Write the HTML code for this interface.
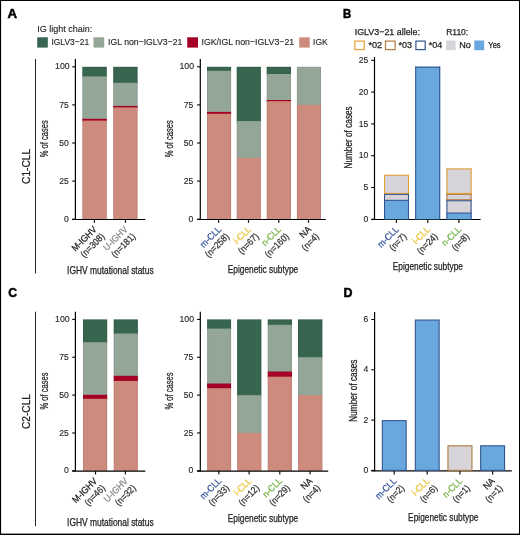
<!DOCTYPE html>
<html><head><meta charset="utf-8"><style>
html,body{margin:0;padding:0;background:#fff;}
body{width:520px;height:535px;overflow:hidden;position:relative;}
svg{position:absolute;left:0;top:0;display:block;will-change:transform;}
text{font-family:"Liberation Sans",sans-serif;}
</style></head><body>
<svg width="520" height="535" viewBox="0 0 520 535">
<rect x="0" y="0" width="520" height="535" fill="#fff"/>
<text x="7.60" y="17.60" font-size="12.6" text-anchor="start" fill="#000" stroke="#000" stroke-width="0.5" font-weight="bold" textLength="9.60" lengthAdjust="spacingAndGlyphs" >A</text>
<text x="343.00" y="17.70" font-size="12.6" text-anchor="start" fill="#000" stroke="#000" stroke-width="0.5" font-weight="bold" textLength="8.20" lengthAdjust="spacingAndGlyphs" >B</text>
<text x="8.30" y="297.30" font-size="12.6" text-anchor="start" fill="#000" stroke="#000" stroke-width="0.5" font-weight="bold" textLength="8.80" lengthAdjust="spacingAndGlyphs" >C</text>
<text x="343.50" y="297.10" font-size="12.6" text-anchor="start" fill="#000" stroke="#000" stroke-width="0.5" font-weight="bold" textLength="9.00" lengthAdjust="spacingAndGlyphs" >D</text>
<text x="37.20" y="31.50" font-size="9.2" text-anchor="start" fill="#222" stroke="#222" stroke-width="0.12" font-weight="normal" textLength="55.10" lengthAdjust="spacingAndGlyphs" >IG light chain:</text>
<rect x="37.20" y="37.30" width="10.60" height="10.30" fill="#376550" />
<text x="51.40" y="44.70" font-size="9.2" text-anchor="start" fill="#222" stroke="#222" stroke-width="0.12" font-weight="normal" textLength="37.70" lengthAdjust="spacingAndGlyphs" >IGLV3−21</text>
<rect x="93.50" y="37.30" width="10.70" height="10.30" fill="#94a697" />
<text x="108.10" y="44.70" font-size="9.2" text-anchor="start" fill="#222" stroke="#222" stroke-width="0.12" font-weight="normal" textLength="74.20" lengthAdjust="spacingAndGlyphs" >IGL non−IGLV3−21</text>
<rect x="187.20" y="37.30" width="10.80" height="10.30" fill="#a50026" />
<text x="201.50" y="44.70" font-size="9.2" text-anchor="start" fill="#222" stroke="#222" stroke-width="0.12" font-weight="normal" textLength="92.70" lengthAdjust="spacingAndGlyphs" >IGK/IGL non−IGLV3−21</text>
<rect x="299.20" y="37.30" width="10.50" height="10.30" fill="#cd8b7e" />
<text x="313.10" y="44.70" font-size="9.2" text-anchor="start" fill="#222" stroke="#222" stroke-width="0.12" font-weight="normal" textLength="14.60" lengthAdjust="spacingAndGlyphs" >IGK</text>
<text x="354.70" y="35.00" font-size="9.2" text-anchor="start" fill="#222" stroke="#222" stroke-width="0.25" font-weight="normal" textLength="65.30" lengthAdjust="spacingAndGlyphs" >IGLV3−21 allele:</text>
<text x="446.20" y="35.00" font-size="9.2" text-anchor="start" fill="#222" stroke="#222" stroke-width="0.25" font-weight="normal" textLength="22.00" lengthAdjust="spacingAndGlyphs" >R110:</text>
<rect x="354.80" y="41.10" width="9.40" height="8.50" fill="#fff" stroke="#e6a032" stroke-width="1.2"/>
<text x="368.50" y="48.10" font-size="9.2" text-anchor="start" fill="#222" stroke="#222" stroke-width="0.25" font-weight="normal" textLength="13.70" lengthAdjust="spacingAndGlyphs" >*02</text>
<rect x="385.50" y="41.10" width="9.60" height="8.50" fill="#fff" stroke="#b47a3c" stroke-width="1.2"/>
<text x="398.60" y="48.10" font-size="9.2" text-anchor="start" fill="#222" stroke="#222" stroke-width="0.25" font-weight="normal" textLength="13.50" lengthAdjust="spacingAndGlyphs" >*03</text>
<rect x="415.90" y="41.10" width="9.30" height="8.50" fill="#fff" stroke="#34548d" stroke-width="1.2"/>
<text x="428.80" y="48.10" font-size="9.2" text-anchor="start" fill="#222" stroke="#222" stroke-width="0.25" font-weight="normal" textLength="13.50" lengthAdjust="spacingAndGlyphs" >*04</text>
<rect x="446.20" y="40.50" width="9.50" height="9.70" fill="#d6d4d8" />
<text x="459.20" y="48.10" font-size="9.2" text-anchor="start" fill="#222" stroke="#222" stroke-width="0.25" font-weight="normal" textLength="11.60" lengthAdjust="spacingAndGlyphs" >No</text>
<rect x="474.30" y="40.50" width="9.90" height="9.70" fill="#69a8df" />
<text x="488.30" y="48.10" font-size="9.2" text-anchor="start" fill="#222" stroke="#222" stroke-width="0.25" font-weight="normal" textLength="12.30" lengthAdjust="spacingAndGlyphs" >Yes</text>
<line x1="35.50" y1="59.00" x2="35.50" y2="273.50" stroke="#222" stroke-width="1"/>
<text x="30.00" y="166.40" font-size="11" text-anchor="middle" fill="#222" stroke="#222" stroke-width="0.25" font-weight="normal" textLength="35.00" lengthAdjust="spacingAndGlyphs" transform="rotate(-90 30.00 166.40)" >C1-CLL</text>
<line x1="75.40" y1="59.00" x2="75.40" y2="219.80" stroke="#000" stroke-width="1.2"/>
<line x1="72.20" y1="66.80" x2="75.40" y2="66.80" stroke="#000" stroke-width="1.1"/>
<text x="69.70" y="69.40" font-size="9.0" text-anchor="end" fill="#222" stroke="#222" stroke-width="0.12" font-weight="normal" textLength="14.60" lengthAdjust="spacingAndGlyphs" >100</text>
<line x1="72.20" y1="104.90" x2="75.40" y2="104.90" stroke="#000" stroke-width="1.1"/>
<text x="68.80" y="107.50" font-size="9.0" text-anchor="end" fill="#222" stroke="#222" stroke-width="0.12" font-weight="normal" textLength="9.50" lengthAdjust="spacingAndGlyphs" >75</text>
<line x1="72.20" y1="143.00" x2="75.40" y2="143.00" stroke="#000" stroke-width="1.1"/>
<text x="68.80" y="145.60" font-size="9.0" text-anchor="end" fill="#222" stroke="#222" stroke-width="0.12" font-weight="normal" textLength="9.50" lengthAdjust="spacingAndGlyphs" >50</text>
<line x1="72.20" y1="181.10" x2="75.40" y2="181.10" stroke="#000" stroke-width="1.1"/>
<text x="68.80" y="183.70" font-size="9.0" text-anchor="end" fill="#222" stroke="#222" stroke-width="0.12" font-weight="normal" textLength="9.50" lengthAdjust="spacingAndGlyphs" >25</text>
<line x1="72.20" y1="219.20" x2="75.40" y2="219.20" stroke="#000" stroke-width="1.1"/>
<text x="68.80" y="221.80" font-size="9.0" text-anchor="end" fill="#222" stroke="#222" stroke-width="0.12" font-weight="normal" textLength="4.80" lengthAdjust="spacingAndGlyphs" >0</text>
<text x="48.40" y="138.70" font-size="11.2" text-anchor="middle" fill="#222" stroke="#222" stroke-width="0.25" font-weight="normal" textLength="37.00" lengthAdjust="spacingAndGlyphs" transform="rotate(-90 48.40 138.70)" >% of cases</text>
<rect x="82.30" y="66.80" width="24.50" height="10.60" fill="#376550" />
<rect x="82.30" y="76.40" width="24.50" height="43.40" fill="#94a697" />
<rect x="82.30" y="118.80" width="24.50" height="2.80" fill="#a50026" />
<rect x="82.30" y="120.60" width="24.50" height="98.60" fill="#cd8b7e" />
<rect x="82.30" y="66.80" width="1.00" height="152.40" fill="#000" fill-opacity="0.06"/>
<rect x="105.80" y="66.80" width="1.00" height="152.40" fill="#000" fill-opacity="0.06"/>
<rect x="83.30" y="66.80" width="22.50" height="0.80" fill="#000" fill-opacity="0.06"/>
<rect x="113.20" y="66.80" width="24.40" height="17.00" fill="#376550" />
<rect x="113.20" y="82.80" width="24.40" height="24.10" fill="#94a697" />
<rect x="113.20" y="105.90" width="24.40" height="2.50" fill="#a50026" />
<rect x="113.20" y="107.40" width="24.40" height="111.80" fill="#cd8b7e" />
<rect x="113.20" y="66.80" width="1.00" height="152.40" fill="#000" fill-opacity="0.06"/>
<rect x="136.60" y="66.80" width="1.00" height="152.40" fill="#000" fill-opacity="0.06"/>
<rect x="114.20" y="66.80" width="22.40" height="0.80" fill="#000" fill-opacity="0.06"/>
<line x1="72.20" y1="219.50" x2="145.30" y2="219.50" stroke="#000" stroke-width="1.2"/>
<rect x="93.80" y="219.20" width="1.20" height="3.60" fill="#111" />
<rect x="124.90" y="219.20" width="1.20" height="3.60" fill="#111" />
<line x1="200.30" y1="59.00" x2="200.30" y2="219.80" stroke="#000" stroke-width="1.2"/>
<line x1="197.10" y1="66.80" x2="200.30" y2="66.80" stroke="#000" stroke-width="1.1"/>
<text x="194.10" y="69.40" font-size="9.0" text-anchor="end" fill="#222" stroke="#222" stroke-width="0.12" font-weight="normal" textLength="14.60" lengthAdjust="spacingAndGlyphs" >100</text>
<line x1="197.10" y1="104.90" x2="200.30" y2="104.90" stroke="#000" stroke-width="1.1"/>
<text x="193.20" y="107.50" font-size="9.0" text-anchor="end" fill="#222" stroke="#222" stroke-width="0.12" font-weight="normal" textLength="9.50" lengthAdjust="spacingAndGlyphs" >75</text>
<line x1="197.10" y1="143.00" x2="200.30" y2="143.00" stroke="#000" stroke-width="1.1"/>
<text x="193.20" y="145.60" font-size="9.0" text-anchor="end" fill="#222" stroke="#222" stroke-width="0.12" font-weight="normal" textLength="9.50" lengthAdjust="spacingAndGlyphs" >50</text>
<line x1="197.10" y1="181.10" x2="200.30" y2="181.10" stroke="#000" stroke-width="1.1"/>
<text x="193.20" y="183.70" font-size="9.0" text-anchor="end" fill="#222" stroke="#222" stroke-width="0.12" font-weight="normal" textLength="9.50" lengthAdjust="spacingAndGlyphs" >25</text>
<line x1="197.10" y1="219.20" x2="200.30" y2="219.20" stroke="#000" stroke-width="1.1"/>
<text x="193.20" y="221.80" font-size="9.0" text-anchor="end" fill="#222" stroke="#222" stroke-width="0.12" font-weight="normal" textLength="4.80" lengthAdjust="spacingAndGlyphs" >0</text>
<text x="172.80" y="138.70" font-size="11.2" text-anchor="middle" fill="#222" stroke="#222" stroke-width="0.25" font-weight="normal" textLength="37.00" lengthAdjust="spacingAndGlyphs" transform="rotate(-90 172.80 138.70)" >% of cases</text>
<rect x="207.00" y="66.80" width="24.10" height="5.00" fill="#376550" />
<rect x="207.00" y="70.80" width="24.10" height="42.10" fill="#94a697" />
<rect x="207.00" y="111.90" width="24.10" height="2.90" fill="#a50026" />
<rect x="207.00" y="113.80" width="24.10" height="105.40" fill="#cd8b7e" />
<rect x="207.00" y="66.80" width="1.00" height="152.40" fill="#000" fill-opacity="0.06"/>
<rect x="230.10" y="66.80" width="1.00" height="152.40" fill="#000" fill-opacity="0.06"/>
<rect x="208.00" y="66.80" width="22.10" height="0.80" fill="#000" fill-opacity="0.06"/>
<rect x="236.70" y="66.80" width="24.20" height="55.30" fill="#376550" />
<rect x="236.70" y="121.10" width="24.20" height="37.80" fill="#94a697" />
<rect x="236.70" y="157.90" width="24.20" height="61.30" fill="#cd8b7e" />
<rect x="236.70" y="66.80" width="1.00" height="152.40" fill="#000" fill-opacity="0.06"/>
<rect x="259.90" y="66.80" width="1.00" height="152.40" fill="#000" fill-opacity="0.06"/>
<rect x="237.70" y="66.80" width="22.20" height="0.80" fill="#000" fill-opacity="0.06"/>
<rect x="266.70" y="66.80" width="24.30" height="8.20" fill="#376550" />
<rect x="266.70" y="74.00" width="24.30" height="27.00" fill="#94a697" />
<rect x="266.70" y="100.00" width="24.30" height="2.20" fill="#a50026" />
<rect x="266.70" y="101.20" width="24.30" height="118.00" fill="#cd8b7e" />
<rect x="266.70" y="66.80" width="1.00" height="152.40" fill="#000" fill-opacity="0.06"/>
<rect x="290.00" y="66.80" width="1.00" height="152.40" fill="#000" fill-opacity="0.06"/>
<rect x="267.70" y="66.80" width="22.30" height="0.80" fill="#000" fill-opacity="0.06"/>
<rect x="296.90" y="66.80" width="24.10" height="39.00" fill="#94a697" />
<rect x="296.90" y="104.80" width="24.10" height="114.40" fill="#cd8b7e" />
<rect x="296.90" y="66.80" width="1.00" height="152.40" fill="#000" fill-opacity="0.06"/>
<rect x="320.00" y="66.80" width="1.00" height="152.40" fill="#000" fill-opacity="0.06"/>
<rect x="297.90" y="66.80" width="22.10" height="0.80" fill="#000" fill-opacity="0.06"/>
<line x1="197.10" y1="219.50" x2="325.90" y2="219.50" stroke="#000" stroke-width="1.2"/>
<rect x="218.00" y="219.20" width="1.20" height="3.60" fill="#111" />
<rect x="247.90" y="219.20" width="1.20" height="3.60" fill="#111" />
<rect x="278.20" y="219.20" width="1.20" height="3.60" fill="#111" />
<rect x="307.90" y="219.20" width="1.20" height="3.60" fill="#111" />
<text x="67.10" y="273.60" font-size="10.3" text-anchor="start" fill="#222" stroke="#222" stroke-width="0.25" font-weight="normal" textLength="86.50" lengthAdjust="spacingAndGlyphs" >IGHV mutational status</text>
<text x="227.80" y="273.30" font-size="10.3" text-anchor="start" fill="#222" stroke="#222" stroke-width="0.25" font-weight="normal" textLength="70.40" lengthAdjust="spacingAndGlyphs" >Epigenetic subtype</text>
<line x1="35.50" y1="311.70" x2="35.50" y2="526.20" stroke="#222" stroke-width="1"/>
<text x="30.00" y="411.50" font-size="11" text-anchor="middle" fill="#222" stroke="#222" stroke-width="0.25" font-weight="normal" textLength="35.00" lengthAdjust="spacingAndGlyphs" transform="rotate(-90 30.00 411.50)" >C2-CLL</text>
<line x1="75.40" y1="311.80" x2="75.40" y2="471.40" stroke="#000" stroke-width="1.2"/>
<line x1="72.20" y1="319.40" x2="75.40" y2="319.40" stroke="#000" stroke-width="1.1"/>
<text x="69.70" y="322.00" font-size="9.0" text-anchor="end" fill="#222" stroke="#222" stroke-width="0.12" font-weight="normal" textLength="14.60" lengthAdjust="spacingAndGlyphs" >100</text>
<line x1="72.20" y1="357.25" x2="75.40" y2="357.25" stroke="#000" stroke-width="1.1"/>
<text x="68.80" y="359.85" font-size="9.0" text-anchor="end" fill="#222" stroke="#222" stroke-width="0.12" font-weight="normal" textLength="9.50" lengthAdjust="spacingAndGlyphs" >75</text>
<line x1="72.20" y1="395.10" x2="75.40" y2="395.10" stroke="#000" stroke-width="1.1"/>
<text x="68.80" y="397.70" font-size="9.0" text-anchor="end" fill="#222" stroke="#222" stroke-width="0.12" font-weight="normal" textLength="9.50" lengthAdjust="spacingAndGlyphs" >50</text>
<line x1="72.20" y1="432.95" x2="75.40" y2="432.95" stroke="#000" stroke-width="1.1"/>
<text x="68.80" y="435.55" font-size="9.0" text-anchor="end" fill="#222" stroke="#222" stroke-width="0.12" font-weight="normal" textLength="9.50" lengthAdjust="spacingAndGlyphs" >25</text>
<line x1="72.20" y1="470.80" x2="75.40" y2="470.80" stroke="#000" stroke-width="1.1"/>
<text x="68.80" y="473.40" font-size="9.0" text-anchor="end" fill="#222" stroke="#222" stroke-width="0.12" font-weight="normal" textLength="4.80" lengthAdjust="spacingAndGlyphs" >0</text>
<text x="48.40" y="391.00" font-size="11.2" text-anchor="middle" fill="#222" stroke="#222" stroke-width="0.25" font-weight="normal" textLength="37.00" lengthAdjust="spacingAndGlyphs" transform="rotate(-90 48.40 391.00)" >% of cases</text>
<rect x="83.00" y="319.40" width="24.20" height="23.80" fill="#376550" />
<rect x="83.00" y="342.20" width="24.20" height="53.60" fill="#94a697" />
<rect x="83.00" y="394.80" width="24.20" height="5.00" fill="#a50026" />
<rect x="83.00" y="398.80" width="24.20" height="72.00" fill="#cd8b7e" />
<rect x="83.00" y="319.40" width="1.00" height="151.40" fill="#000" fill-opacity="0.06"/>
<rect x="106.20" y="319.40" width="1.00" height="151.40" fill="#000" fill-opacity="0.06"/>
<rect x="84.00" y="319.40" width="22.20" height="0.80" fill="#000" fill-opacity="0.06"/>
<rect x="113.70" y="319.40" width="24.20" height="15.10" fill="#376550" />
<rect x="113.70" y="333.50" width="24.20" height="43.30" fill="#94a697" />
<rect x="113.70" y="375.80" width="24.20" height="6.10" fill="#a50026" />
<rect x="113.70" y="380.90" width="24.20" height="89.90" fill="#cd8b7e" />
<rect x="113.70" y="319.40" width="1.00" height="151.40" fill="#000" fill-opacity="0.06"/>
<rect x="136.90" y="319.40" width="1.00" height="151.40" fill="#000" fill-opacity="0.06"/>
<rect x="114.70" y="319.40" width="22.20" height="0.80" fill="#000" fill-opacity="0.06"/>
<line x1="72.20" y1="471.10" x2="145.30" y2="471.10" stroke="#000" stroke-width="1.2"/>
<rect x="94.90" y="470.80" width="1.20" height="3.60" fill="#111" />
<rect x="124.80" y="470.80" width="1.20" height="3.60" fill="#111" />
<line x1="200.30" y1="311.80" x2="200.30" y2="471.40" stroke="#000" stroke-width="1.2"/>
<line x1="197.10" y1="319.40" x2="200.30" y2="319.40" stroke="#000" stroke-width="1.1"/>
<text x="194.10" y="322.00" font-size="9.0" text-anchor="end" fill="#222" stroke="#222" stroke-width="0.12" font-weight="normal" textLength="14.60" lengthAdjust="spacingAndGlyphs" >100</text>
<line x1="197.10" y1="357.25" x2="200.30" y2="357.25" stroke="#000" stroke-width="1.1"/>
<text x="193.20" y="359.85" font-size="9.0" text-anchor="end" fill="#222" stroke="#222" stroke-width="0.12" font-weight="normal" textLength="9.50" lengthAdjust="spacingAndGlyphs" >75</text>
<line x1="197.10" y1="395.10" x2="200.30" y2="395.10" stroke="#000" stroke-width="1.1"/>
<text x="193.20" y="397.70" font-size="9.0" text-anchor="end" fill="#222" stroke="#222" stroke-width="0.12" font-weight="normal" textLength="9.50" lengthAdjust="spacingAndGlyphs" >50</text>
<line x1="197.10" y1="432.95" x2="200.30" y2="432.95" stroke="#000" stroke-width="1.1"/>
<text x="193.20" y="435.55" font-size="9.0" text-anchor="end" fill="#222" stroke="#222" stroke-width="0.12" font-weight="normal" textLength="9.50" lengthAdjust="spacingAndGlyphs" >25</text>
<line x1="197.10" y1="470.80" x2="200.30" y2="470.80" stroke="#000" stroke-width="1.1"/>
<text x="193.20" y="473.40" font-size="9.0" text-anchor="end" fill="#222" stroke="#222" stroke-width="0.12" font-weight="normal" textLength="4.80" lengthAdjust="spacingAndGlyphs" >0</text>
<text x="172.80" y="391.00" font-size="11.2" text-anchor="middle" fill="#222" stroke="#222" stroke-width="0.25" font-weight="normal" textLength="37.00" lengthAdjust="spacingAndGlyphs" transform="rotate(-90 172.80 391.00)" >% of cases</text>
<rect x="207.10" y="319.40" width="24.00" height="10.20" fill="#376550" />
<rect x="207.10" y="328.60" width="24.00" height="55.90" fill="#94a697" />
<rect x="207.10" y="383.50" width="24.00" height="5.70" fill="#a50026" />
<rect x="207.10" y="388.20" width="24.00" height="82.60" fill="#cd8b7e" />
<rect x="207.10" y="319.40" width="1.00" height="151.40" fill="#000" fill-opacity="0.06"/>
<rect x="230.10" y="319.40" width="1.00" height="151.40" fill="#000" fill-opacity="0.06"/>
<rect x="208.10" y="319.40" width="22.00" height="0.80" fill="#000" fill-opacity="0.06"/>
<rect x="237.10" y="319.40" width="24.30" height="76.80" fill="#376550" />
<rect x="237.10" y="395.20" width="24.30" height="38.80" fill="#94a697" />
<rect x="237.10" y="433.00" width="24.30" height="37.80" fill="#cd8b7e" />
<rect x="237.10" y="319.40" width="1.00" height="151.40" fill="#000" fill-opacity="0.06"/>
<rect x="260.40" y="319.40" width="1.00" height="151.40" fill="#000" fill-opacity="0.06"/>
<rect x="238.10" y="319.40" width="22.30" height="0.80" fill="#000" fill-opacity="0.06"/>
<rect x="267.70" y="319.40" width="24.30" height="6.40" fill="#376550" />
<rect x="267.70" y="324.80" width="24.30" height="47.70" fill="#94a697" />
<rect x="267.70" y="371.50" width="24.30" height="6.20" fill="#a50026" />
<rect x="267.70" y="376.70" width="24.30" height="94.10" fill="#cd8b7e" />
<rect x="267.70" y="319.40" width="1.00" height="151.40" fill="#000" fill-opacity="0.06"/>
<rect x="291.00" y="319.40" width="1.00" height="151.40" fill="#000" fill-opacity="0.06"/>
<rect x="268.70" y="319.40" width="22.30" height="0.80" fill="#000" fill-opacity="0.06"/>
<rect x="298.00" y="319.40" width="24.40" height="38.80" fill="#376550" />
<rect x="298.00" y="357.20" width="24.40" height="38.90" fill="#94a697" />
<rect x="298.00" y="395.10" width="24.40" height="75.70" fill="#cd8b7e" />
<rect x="298.00" y="319.40" width="1.00" height="151.40" fill="#000" fill-opacity="0.06"/>
<rect x="321.40" y="319.40" width="1.00" height="151.40" fill="#000" fill-opacity="0.06"/>
<rect x="299.00" y="319.40" width="22.40" height="0.80" fill="#000" fill-opacity="0.06"/>
<line x1="197.10" y1="471.10" x2="328.20" y2="471.10" stroke="#000" stroke-width="1.2"/>
<rect x="218.20" y="470.80" width="1.20" height="3.60" fill="#111" />
<rect x="248.50" y="470.80" width="1.20" height="3.60" fill="#111" />
<rect x="279.20" y="470.80" width="1.20" height="3.60" fill="#111" />
<rect x="309.50" y="470.80" width="1.20" height="3.60" fill="#111" />
<text x="67.10" y="525.70" font-size="10.3" text-anchor="start" fill="#222" stroke="#222" stroke-width="0.25" font-weight="normal" textLength="86.50" lengthAdjust="spacingAndGlyphs" >IGHV mutational status</text>
<text x="227.80" y="521.60" font-size="10.3" text-anchor="start" fill="#222" stroke="#222" stroke-width="0.25" font-weight="normal" textLength="70.40" lengthAdjust="spacingAndGlyphs" >Epigenetic subtype</text>
<g transform="translate(94.55,222.50) rotate(-45) scale(0.91,1)">
<text x="-3.68" y="7.30" font-size="9.4" text-anchor="end" fill="#222" stroke="#222" stroke-width="0.25">M-IGHV</text>
<text x="-2.97" y="17.80" font-size="9.4" text-anchor="end" fill="#333" stroke="#333" stroke-width="0.25">(n=308)</text>
</g>
<g transform="translate(125.40,222.50) rotate(-45) scale(0.91,1)">
<text x="-3.68" y="7.30" font-size="9.4" text-anchor="end" fill="#8c8c8c" stroke="#8c8c8c" stroke-width="0.25">U-IGHV</text>
<text x="-2.97" y="17.80" font-size="9.4" text-anchor="end" fill="#333" stroke="#333" stroke-width="0.25">(n=181)</text>
</g>
<g transform="translate(219.05,222.50) rotate(-45) scale(0.91,1)">
<text x="-3.68" y="7.30" font-size="9.4" text-anchor="end" fill="#35569b" stroke="#35569b" stroke-width="0.25">m-CLL</text>
<text x="-2.97" y="17.80" font-size="9.4" text-anchor="end" fill="#333" stroke="#333" stroke-width="0.25">(n=258)</text>
</g>
<g transform="translate(248.80,222.50) rotate(-45) scale(0.91,1)">
<text x="-3.68" y="7.30" font-size="9.4" text-anchor="end" fill="#e8c338" stroke="#e8c338" stroke-width="0.25">i-CLL</text>
<text x="-2.97" y="17.80" font-size="9.4" text-anchor="end" fill="#333" stroke="#333" stroke-width="0.25">(n=67)</text>
</g>
<g transform="translate(278.85,222.50) rotate(-45) scale(0.91,1)">
<text x="-3.68" y="7.30" font-size="9.4" text-anchor="end" fill="#72b244" stroke="#72b244" stroke-width="0.25">n-CLL</text>
<text x="-2.97" y="17.80" font-size="9.4" text-anchor="end" fill="#333" stroke="#333" stroke-width="0.25">(n=160)</text>
</g>
<g transform="translate(308.95,222.50) rotate(-45) scale(0.91,1)">
<text x="-3.68" y="7.30" font-size="9.4" text-anchor="end" fill="#222" stroke="#222" stroke-width="0.25">NA</text>
<text x="-2.97" y="17.80" font-size="9.4" text-anchor="end" fill="#333" stroke="#333" stroke-width="0.25">(n=4)</text>
</g>
<g transform="translate(95.10,474.10) rotate(-45) scale(0.91,1)">
<text x="-3.68" y="7.30" font-size="9.4" text-anchor="end" fill="#222" stroke="#222" stroke-width="0.25">M-IGHV</text>
<text x="-2.97" y="17.80" font-size="9.4" text-anchor="end" fill="#333" stroke="#333" stroke-width="0.25">(n=46)</text>
</g>
<g transform="translate(125.80,474.10) rotate(-45) scale(0.91,1)">
<text x="-3.68" y="7.30" font-size="9.4" text-anchor="end" fill="#8c8c8c" stroke="#8c8c8c" stroke-width="0.25">U-IGHV</text>
<text x="-2.97" y="17.80" font-size="9.4" text-anchor="end" fill="#333" stroke="#333" stroke-width="0.25">(n=32)</text>
</g>
<g transform="translate(219.10,474.10) rotate(-45) scale(0.91,1)">
<text x="-3.68" y="7.30" font-size="9.4" text-anchor="end" fill="#35569b" stroke="#35569b" stroke-width="0.25">m-CLL</text>
<text x="-2.97" y="17.80" font-size="9.4" text-anchor="end" fill="#333" stroke="#333" stroke-width="0.25">(n=33)</text>
</g>
<g transform="translate(249.25,474.10) rotate(-45) scale(0.91,1)">
<text x="-3.68" y="7.30" font-size="9.4" text-anchor="end" fill="#e8c338" stroke="#e8c338" stroke-width="0.25">i-CLL</text>
<text x="-2.97" y="17.80" font-size="9.4" text-anchor="end" fill="#333" stroke="#333" stroke-width="0.25">(n=12)</text>
</g>
<g transform="translate(279.85,474.10) rotate(-45) scale(0.91,1)">
<text x="-3.68" y="7.30" font-size="9.4" text-anchor="end" fill="#72b244" stroke="#72b244" stroke-width="0.25">n-CLL</text>
<text x="-2.97" y="17.80" font-size="9.4" text-anchor="end" fill="#333" stroke="#333" stroke-width="0.25">(n=29)</text>
</g>
<g transform="translate(310.20,474.10) rotate(-45) scale(0.91,1)">
<text x="-3.68" y="7.30" font-size="9.4" text-anchor="end" fill="#222" stroke="#222" stroke-width="0.25">NA</text>
<text x="-2.97" y="17.80" font-size="9.4" text-anchor="end" fill="#333" stroke="#333" stroke-width="0.25">(n=4)</text>
</g>
<line x1="374.50" y1="57.00" x2="374.50" y2="219.90" stroke="#000" stroke-width="1.2"/>
<line x1="371.20" y1="219.30" x2="374.50" y2="219.30" stroke="#000" stroke-width="1.1"/>
<text x="368.20" y="221.90" font-size="9.0" text-anchor="end" fill="#222" stroke="#222" stroke-width="0.12" font-weight="normal" textLength="4.80" lengthAdjust="spacingAndGlyphs" >0</text>
<line x1="371.20" y1="187.50" x2="374.50" y2="187.50" stroke="#000" stroke-width="1.1"/>
<text x="368.20" y="190.10" font-size="9.0" text-anchor="end" fill="#222" stroke="#222" stroke-width="0.12" font-weight="normal" textLength="4.80" lengthAdjust="spacingAndGlyphs" >5</text>
<line x1="371.20" y1="155.70" x2="374.50" y2="155.70" stroke="#000" stroke-width="1.1"/>
<text x="368.20" y="158.30" font-size="9.0" text-anchor="end" fill="#222" stroke="#222" stroke-width="0.12" font-weight="normal" textLength="9.50" lengthAdjust="spacingAndGlyphs" >10</text>
<line x1="371.20" y1="123.90" x2="374.50" y2="123.90" stroke="#000" stroke-width="1.1"/>
<text x="368.20" y="126.50" font-size="9.0" text-anchor="end" fill="#222" stroke="#222" stroke-width="0.12" font-weight="normal" textLength="9.50" lengthAdjust="spacingAndGlyphs" >15</text>
<line x1="371.20" y1="92.10" x2="374.50" y2="92.10" stroke="#000" stroke-width="1.1"/>
<text x="368.20" y="94.70" font-size="9.0" text-anchor="end" fill="#222" stroke="#222" stroke-width="0.12" font-weight="normal" textLength="9.50" lengthAdjust="spacingAndGlyphs" >20</text>
<line x1="371.20" y1="60.30" x2="374.50" y2="60.30" stroke="#000" stroke-width="1.1"/>
<text x="368.20" y="62.90" font-size="9.0" text-anchor="end" fill="#222" stroke="#222" stroke-width="0.12" font-weight="normal" textLength="9.50" lengthAdjust="spacingAndGlyphs" >25</text>
<text x="351.90" y="137.40" font-size="10.5" text-anchor="middle" fill="#222" stroke="#222" stroke-width="0.25" font-weight="normal" textLength="62.20" lengthAdjust="spacingAndGlyphs" transform="rotate(-90 351.90 137.40)" >Number of cases</text>
<line x1="371.20" y1="219.50" x2="480.70" y2="219.50" stroke="#000" stroke-width="1.2"/>
<rect x="384.00" y="200.22" width="25.00" height="19.08" fill="#69a8df" />
<rect x="384.00" y="193.86" width="25.00" height="6.36" fill="#d6d4d8" />
<rect x="384.00" y="174.78" width="25.00" height="19.08" fill="#d6d4d8" />
<rect x="384.00" y="200.22" width="1.05" height="19.08" fill="#34548d" />
<rect x="407.95" y="200.22" width="1.05" height="19.08" fill="#34548d" />
<rect x="384.00" y="193.86" width="1.05" height="6.36" fill="#34548d" />
<rect x="407.95" y="193.86" width="1.05" height="6.36" fill="#34548d" />
<rect x="384.00" y="174.78" width="1.05" height="19.08" fill="#e6a032" />
<rect x="407.95" y="174.78" width="1.05" height="19.08" fill="#e6a032" />
<rect x="384.00" y="174.78" width="25.00" height="1.05" fill="#e6a032" />
<rect x="384.00" y="199.82" width="25.00" height="1.05" fill="#34548d" />
<rect x="384.00" y="192.86" width="25.00" height="1.00" fill="#e6a032" />
<rect x="384.00" y="193.86" width="25.00" height="1.05" fill="#34548d" />
<rect x="395.80" y="219.30" width="1.20" height="3.60" fill="#111" />
<rect x="415.20" y="66.66" width="25.00" height="152.64" fill="#69a8df" />
<rect x="415.20" y="66.66" width="1.05" height="152.64" fill="#34548d" />
<rect x="439.15" y="66.66" width="1.05" height="152.64" fill="#34548d" />
<rect x="415.20" y="66.66" width="25.00" height="1.05" fill="#34548d" />
<rect x="427.20" y="219.30" width="1.20" height="3.60" fill="#111" />
<rect x="446.40" y="212.94" width="25.20" height="6.36" fill="#69a8df" />
<rect x="446.40" y="200.22" width="25.20" height="12.72" fill="#d6d4d8" />
<rect x="446.40" y="193.86" width="25.20" height="6.36" fill="#d6d4d8" />
<rect x="446.40" y="168.42" width="25.20" height="25.44" fill="#d6d4d8" />
<rect x="446.40" y="212.94" width="1.05" height="6.36" fill="#34548d" />
<rect x="470.55" y="212.94" width="1.05" height="6.36" fill="#34548d" />
<rect x="446.40" y="200.22" width="1.05" height="12.72" fill="#34548d" />
<rect x="470.55" y="200.22" width="1.05" height="12.72" fill="#34548d" />
<rect x="446.40" y="193.86" width="1.05" height="6.36" fill="#b47a3c" />
<rect x="470.55" y="193.86" width="1.05" height="6.36" fill="#b47a3c" />
<rect x="446.40" y="168.42" width="1.05" height="25.44" fill="#e6a032" />
<rect x="470.55" y="168.42" width="1.05" height="25.44" fill="#e6a032" />
<rect x="446.40" y="168.42" width="25.20" height="1.05" fill="#e6a032" />
<rect x="446.40" y="212.54" width="25.20" height="1.05" fill="#34548d" />
<rect x="446.40" y="199.22" width="25.20" height="1.00" fill="#b47a3c" />
<rect x="446.40" y="200.22" width="25.20" height="1.05" fill="#34548d" />
<rect x="446.40" y="192.86" width="25.20" height="1.00" fill="#e6a032" />
<rect x="446.40" y="193.86" width="25.20" height="1.05" fill="#b47a3c" />
<rect x="458.30" y="219.30" width="1.20" height="3.60" fill="#111" />
<g transform="translate(396.50,222.60) rotate(-45) scale(0.91,1)">
<text x="-3.68" y="7.30" font-size="9.4" text-anchor="end" fill="#35569b" stroke="#35569b" stroke-width="0.25">m-CLL</text>
<text x="-2.97" y="17.80" font-size="9.4" text-anchor="end" fill="#333" stroke="#333" stroke-width="0.25">(n=7)</text>
</g>
<g transform="translate(427.70,222.60) rotate(-45) scale(0.91,1)">
<text x="-3.68" y="7.30" font-size="9.4" text-anchor="end" fill="#e8c338" stroke="#e8c338" stroke-width="0.25">i-CLL</text>
<text x="-2.97" y="17.80" font-size="9.4" text-anchor="end" fill="#333" stroke="#333" stroke-width="0.25">(n=24)</text>
</g>
<g transform="translate(459.00,222.60) rotate(-45) scale(0.91,1)">
<text x="-3.68" y="7.30" font-size="9.4" text-anchor="end" fill="#72b244" stroke="#72b244" stroke-width="0.25">n-CLL</text>
<text x="-2.97" y="17.80" font-size="9.4" text-anchor="end" fill="#333" stroke="#333" stroke-width="0.25">(n=8)</text>
</g>
<text x="392.80" y="269.70" font-size="10.3" text-anchor="start" fill="#222" stroke="#222" stroke-width="0.25" font-weight="normal" textLength="70.10" lengthAdjust="spacingAndGlyphs" >Epigenetic subtype</text>
<line x1="374.60" y1="312.10" x2="374.60" y2="471.50" stroke="#000" stroke-width="1.2"/>
<line x1="371.30" y1="470.40" x2="374.60" y2="470.40" stroke="#000" stroke-width="1.1"/>
<text x="368.20" y="473.00" font-size="9.0" text-anchor="end" fill="#222" stroke="#222" stroke-width="0.12" font-weight="normal" textLength="4.80" lengthAdjust="spacingAndGlyphs" >0</text>
<line x1="371.30" y1="420.10" x2="374.60" y2="420.10" stroke="#000" stroke-width="1.1"/>
<text x="368.20" y="422.70" font-size="9.0" text-anchor="end" fill="#222" stroke="#222" stroke-width="0.12" font-weight="normal" textLength="4.80" lengthAdjust="spacingAndGlyphs" >2</text>
<line x1="371.30" y1="369.80" x2="374.60" y2="369.80" stroke="#000" stroke-width="1.1"/>
<text x="368.20" y="372.40" font-size="9.0" text-anchor="end" fill="#222" stroke="#222" stroke-width="0.12" font-weight="normal" textLength="4.80" lengthAdjust="spacingAndGlyphs" >4</text>
<line x1="371.30" y1="319.50" x2="374.60" y2="319.50" stroke="#000" stroke-width="1.1"/>
<text x="368.20" y="322.10" font-size="9.0" text-anchor="end" fill="#222" stroke="#222" stroke-width="0.12" font-weight="normal" textLength="4.80" lengthAdjust="spacingAndGlyphs" >6</text>
<text x="356.80" y="390.60" font-size="10.5" text-anchor="middle" fill="#222" stroke="#222" stroke-width="0.25" font-weight="normal" textLength="62.20" lengthAdjust="spacingAndGlyphs" transform="rotate(-90 356.80 390.60)" >Number of cases</text>
<line x1="371.30" y1="470.90" x2="511.80" y2="470.90" stroke="#000" stroke-width="1.2"/>
<rect x="382.35" y="420.65" width="23.80" height="49.70" fill="#69a8df" stroke="#34548d" stroke-width="1.1"/>
<rect x="393.60" y="470.90" width="1.20" height="3.60" fill="#111" />
<rect x="415.35" y="320.05" width="23.80" height="150.30" fill="#69a8df" stroke="#34548d" stroke-width="1.1"/>
<rect x="426.60" y="470.90" width="1.20" height="3.60" fill="#111" />
<rect x="447.95" y="445.80" width="24.00" height="24.55" fill="#d6d4d8" stroke="#b47a3c" stroke-width="1.1"/>
<rect x="459.30" y="470.90" width="1.20" height="3.60" fill="#111" />
<rect x="480.65" y="445.80" width="23.90" height="24.55" fill="#69a8df" stroke="#34548d" stroke-width="1.1"/>
<rect x="492.00" y="470.90" width="1.20" height="3.60" fill="#111" />
<g transform="translate(394.25,474.20) rotate(-45) scale(0.91,1)">
<text x="-3.68" y="7.30" font-size="9.4" text-anchor="end" fill="#35569b" stroke="#35569b" stroke-width="0.25">m-CLL</text>
<text x="-2.97" y="17.80" font-size="9.4" text-anchor="end" fill="#333" stroke="#333" stroke-width="0.25">(n=2)</text>
</g>
<g transform="translate(427.25,474.20) rotate(-45) scale(0.91,1)">
<text x="-3.68" y="7.30" font-size="9.4" text-anchor="end" fill="#e8c338" stroke="#e8c338" stroke-width="0.25">i-CLL</text>
<text x="-2.97" y="17.80" font-size="9.4" text-anchor="end" fill="#333" stroke="#333" stroke-width="0.25">(n=6)</text>
</g>
<g transform="translate(459.95,474.20) rotate(-45) scale(0.91,1)">
<text x="-3.68" y="7.30" font-size="9.4" text-anchor="end" fill="#72b244" stroke="#72b244" stroke-width="0.25">n-CLL</text>
<text x="-2.97" y="17.80" font-size="9.4" text-anchor="end" fill="#333" stroke="#333" stroke-width="0.25">(n=1)</text>
</g>
<g transform="translate(492.60,474.20) rotate(-45) scale(0.91,1)">
<text x="-3.68" y="7.30" font-size="9.4" text-anchor="end" fill="#222" stroke="#222" stroke-width="0.25">NA</text>
<text x="-2.97" y="17.80" font-size="9.4" text-anchor="end" fill="#333" stroke="#333" stroke-width="0.25">(n=1)</text>
</g>
<text x="408.10" y="521.00" font-size="10.3" text-anchor="start" fill="#222" stroke="#222" stroke-width="0.25" font-weight="normal" textLength="70.40" lengthAdjust="spacingAndGlyphs" >Epigenetic subtype</text>
<rect x="0" y="0" width="520" height="1" fill="#000"/>
<rect x="0" y="0" width="1.1" height="535" fill="#000"/>
<rect x="519" y="0" width="1" height="535" fill="#000"/>
<rect x="0" y="533.6" width="520" height="1.4" fill="#000"/>
</svg>
</body></html>
